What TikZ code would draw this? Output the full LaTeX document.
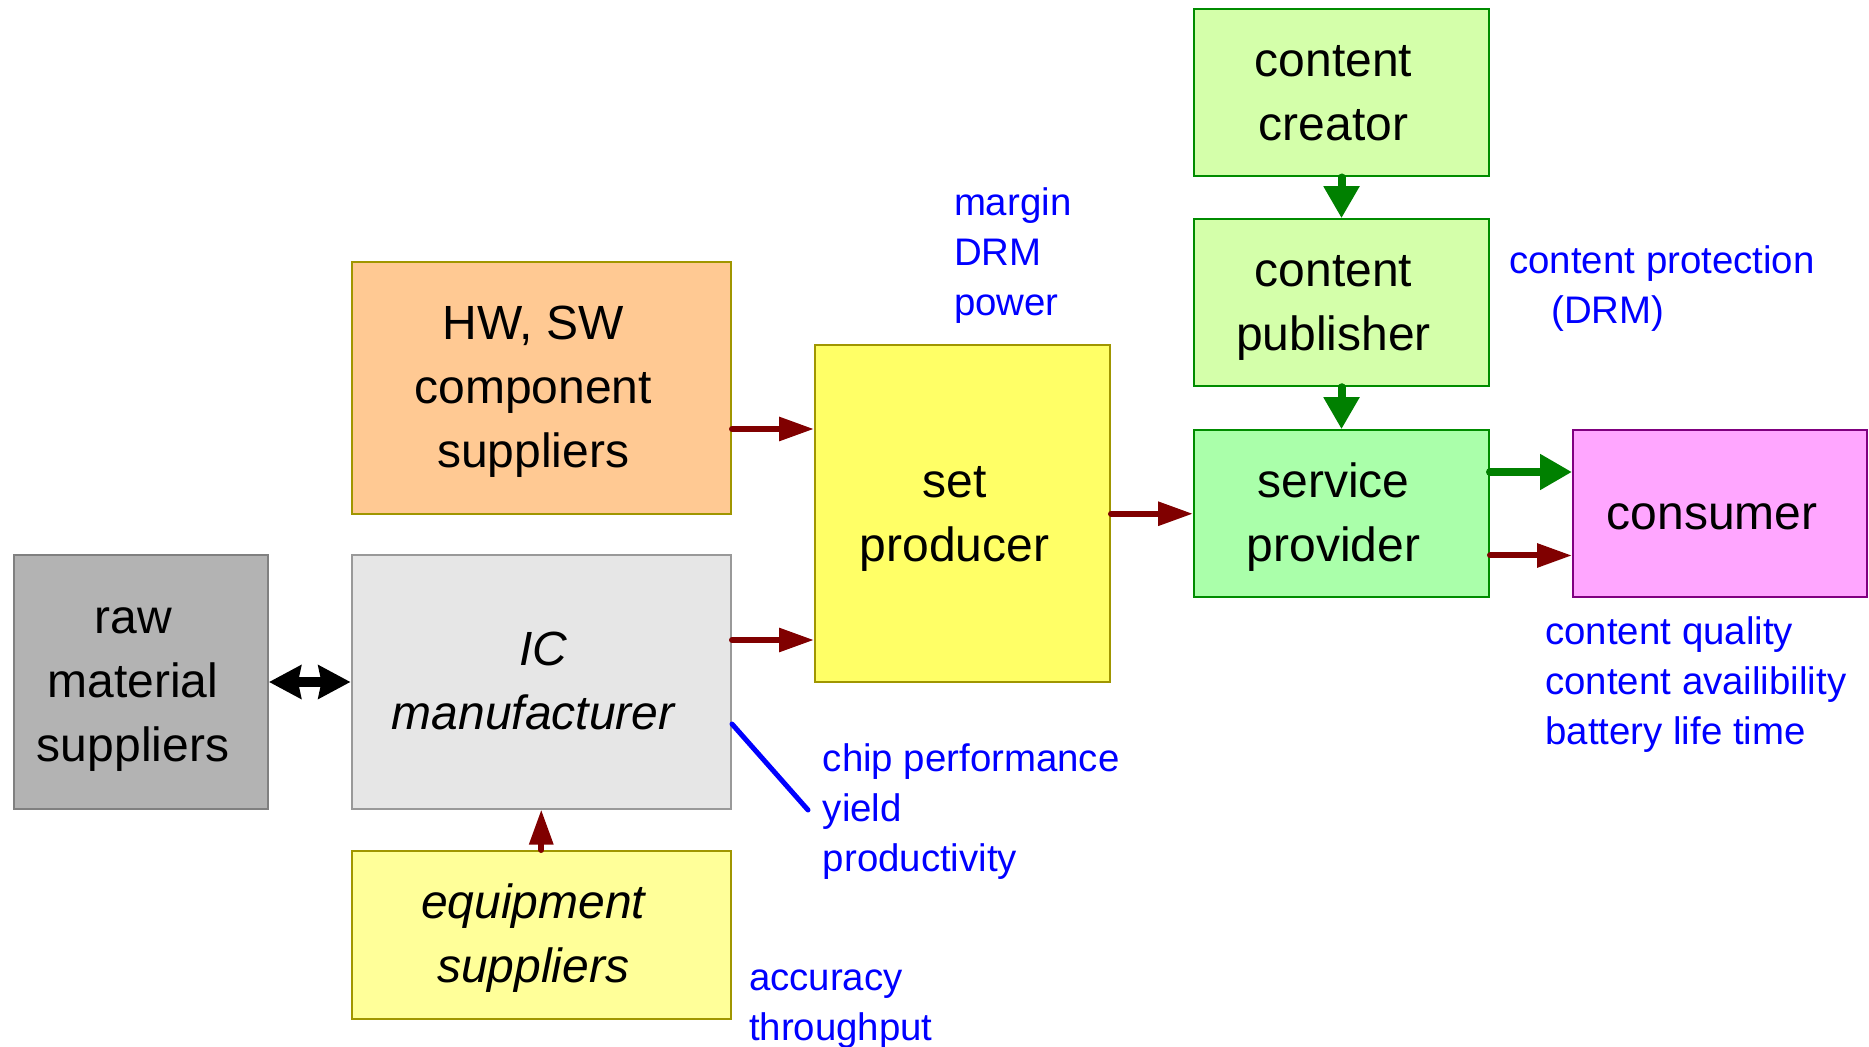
\documentclass[tikz,border=0pt]{standalone}
\usepackage{fontspec}
\setmainfont{Liberation Sans}
\usetikzlibrary{arrows.meta}
\definecolor{cOrange}{RGB}{255,201,147}
\definecolor{cOlive}{RGB}{160,150,0}
\definecolor{cSet}{RGB}{255,255,102}
\definecolor{cEquip}{RGB}{255,255,153}
\definecolor{cRaw}{RGB}{179,179,179}
\definecolor{cRawB}{RGB}{128,128,128}
\definecolor{cIC}{RGB}{230,230,230}
\definecolor{cICB}{RGB}{153,153,153}
\definecolor{cLightG}{RGB}{212,255,170}
\definecolor{cServ}{RGB}{170,255,170}
\definecolor{cGreenB}{RGB}{0,140,0}
\definecolor{cCons}{RGB}{255,166,255}
\definecolor{cConsB}{RGB}{128,0,128}
\definecolor{cDarkRed}{RGB}{128,0,0}
\definecolor{cDGreen}{RGB}{0,128,0}
\newcommand{\bxt}[1]{\begin{tabular}{@{}c@{\hspace{8pt}}}\rule{0pt}{25.2pt}#1\end{tabular}}
\newcommand{\lbl}[1]{\begin{tabular}[t]{@{}l@{}}#1\end{tabular}}
\tikzset{
  box/.style={draw, line width=1pt, inner sep=0pt, font=\fontsize{24}{32}\selectfont},
  lab/.style={text=blue, inner sep=0pt, anchor=base west, font=\fontsize{19.2}{25}\selectfont},
  redarr/.style={draw=cDarkRed, line width=3pt, line cap=round, -{Triangle[length=17.5pt,width=11.5pt]}},
  greenarr/.style={draw=cDGreen, line width=4pt, line cap=round, -{Triangle[length=16pt,width=17pt]}},
  dblarr/.style={draw=black, line width=5pt, {Stealth[length=16pt,width=16.5pt,inset=1.5pt]}-{Stealth[length=16pt,width=16.5pt,inset=1.5pt]}},
  bluelink/.style={draw=blue, line width=2.5pt, line cap=round}
}
\begin{document}
\begin{tikzpicture}[x=0.5pt,y=-0.5pt]
\useasboundingbox (0,0) rectangle (1869,1047);
% boxes
\node[box, fill=cLightG, draw=cGreenB, minimum width=147.5pt, minimum height=83.5pt] (creator) at (1341.5,93) {\bxt{content\\creator}};
\node[box, fill=cLightG, draw=cGreenB, minimum width=147.5pt, minimum height=83.5pt] (publisher) at (1341.5,302.75) {\bxt{content\\publisher}};
\node[box, fill=cServ, draw=cGreenB, minimum width=147.5pt, minimum height=83.5pt] (service) at (1341.5,513.75) {\bxt{service\\provider}};
\node[box, fill=cCons, draw=cConsB, minimum width=147pt, minimum height=83.5pt] (consumer) at (1720,513.75) {\bxt{consumer}};
\node[box, fill=cSet, draw=cOlive, minimum width=147.5pt, minimum height=168.25pt] (set) at (962.5,513.75) {\bxt{set\\producer}};
\node[box, fill=cOrange, draw=cOlive, minimum width=189.75pt, minimum height=126pt] (hw) at (541.25,388) {\bxt{HW, SW\\component\\suppliers}};
\node[box, fill=cIC, draw=cICB, minimum width=189.75pt, minimum height=126.5pt] (ic) at (541.25,682) {\bxt{\itshape\hspace*{10pt}IC\\\itshape manufacturer}};
\node[box, fill=cRaw, draw=cRawB, minimum width=127pt, minimum height=126.5pt] (raw) at (141,682) {\bxt{raw\\material\\suppliers}};
\node[box, fill=cEquip, draw=cOlive, minimum width=189.75pt, minimum height=84pt] (equip) at (541.25,935) {\bxt{\itshape equipment\\\itshape suppliers}};
% labels
\node[lab] (lset) at (953.6,216) {\lbl{margin\\DRM\\power}};
\node[lab] (lprot) at (1509,274) {\lbl{content protection\\\hspace*{21pt}(DRM)}};
\node[lab] (lcons) at (1545,645) {\lbl{content quality\\content availibility\\battery life time}};
\node[lab] (lchip) at (822.5,771) {\lbl{chip performance\\yield\\productivity}};
\node[lab] (lequip) at (748.6,990.6) {\lbl{accuracy\\throughput}};
% connectors
\draw[redarr] (hw.east |- 0,429) -- (set.west |- 0,429);
\draw[redarr] (ic.east |- 0,640) -- (set.west |- 0,640);
\draw[redarr] (set.east) -- (service.west);
\draw[greenarr] (service.east |- 0,472) -- (consumer.west |- 0,472);
\draw[redarr] (service.east |- 0,555.5) -- (consumer.west |- 0,555.5);
\draw[greenarr] (creator.south) -- (publisher.north);
\draw[greenarr] (publisher.south) -- (service.north);
\draw[dblarr] (raw.east) -- (ic.west);
\draw[redarr] (equip.north) -- (ic.south);
\coordinate (chipend) at (808,810);
\draw[bluelink] (ic.east |- 0,724) -- (chipend);
\end{tikzpicture}
\end{document}
